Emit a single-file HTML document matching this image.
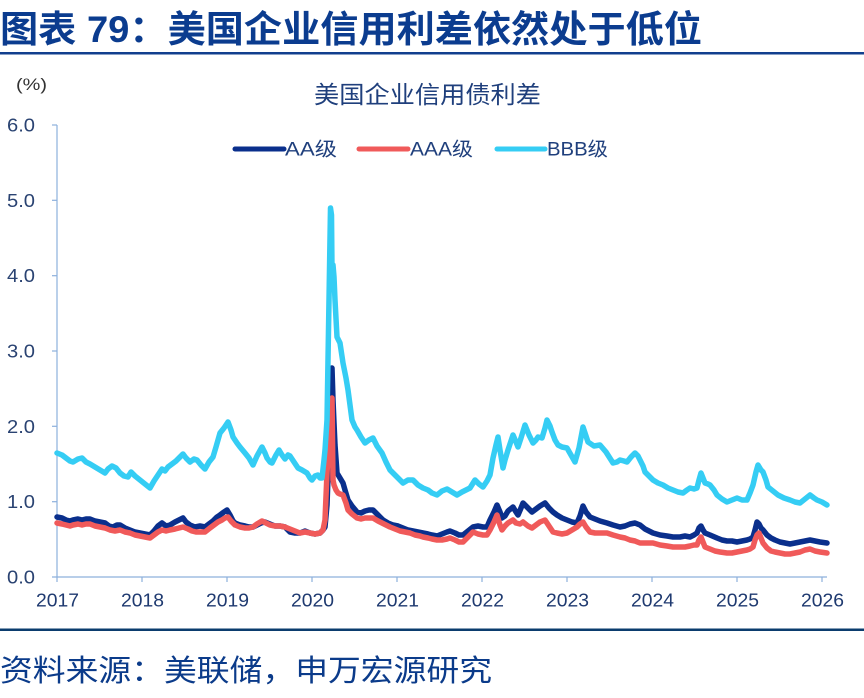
<!DOCTYPE html>
<html>
<head>
<meta charset="utf-8">
<style>
html,body{margin:0;padding:0;background:#fff;}
svg{display:block;}
text{font-family:"Liberation Sans","Noto Sans CJK SC",sans-serif;}
</style>
</head>
<body>
<svg width="864" height="698" viewBox="0 0 864 698" xmlns="http://www.w3.org/2000/svg">
<rect width="864" height="698" fill="#fff"/>
<!-- Title -->
<text x="0" y="42" font-size="37" font-weight="bold" fill="#0b3c8f" textLength="702" lengthAdjust="spacingAndGlyphs">图表 79：美国企业信用利差依然处于低位</text>
<rect x="0" y="52" width="864" height="2.5" fill="#123f8e"/>

<!-- unit -->
<text x="16" y="90" font-size="17" fill="#333" textLength="31" lengthAdjust="spacingAndGlyphs">(%)</text>

<!-- chart title -->
<text x="314" y="103" font-size="24" fill="#1f3f7c" textLength="227" lengthAdjust="spacingAndGlyphs">美国企业信用债利差</text>

<!-- legend -->
<line x1="235" y1="149" x2="284" y2="149" stroke="#0a2f8c" stroke-width="5" stroke-linecap="round"/>
<text x="285" y="155.5" font-size="19" fill="#1f3f7c" textLength="52" lengthAdjust="spacingAndGlyphs">AA级</text>
<line x1="359" y1="149" x2="408" y2="149" stroke="#f05a5a" stroke-width="5" stroke-linecap="round"/>
<text x="410" y="155.5" font-size="19" fill="#1f3f7c" textLength="63" lengthAdjust="spacingAndGlyphs">AAA级</text>
<line x1="497" y1="149" x2="545" y2="149" stroke="#35cdf4" stroke-width="5" stroke-linecap="round"/>
<text x="547" y="155.5" font-size="19" fill="#1f3f7c" textLength="61" lengthAdjust="spacingAndGlyphs">BBB级</text>

<!-- axes -->
<g stroke="#8db0dc" stroke-width="1.2" fill="none">
<line x1="57" y1="125" x2="57" y2="577"/>
<line x1="52" y1="577" x2="827" y2="577"/>
<line x1="52" y1="125" x2="57" y2="125"/>
<line x1="52" y1="200.3" x2="57" y2="200.3"/>
<line x1="52" y1="275.7" x2="57" y2="275.7"/>
<line x1="52" y1="351" x2="57" y2="351"/>
<line x1="52" y1="426.3" x2="57" y2="426.3"/>
<line x1="52" y1="501.7" x2="57" y2="501.7"/>
<line x1="57" y1="577" x2="57" y2="582"/>
<line x1="142" y1="577" x2="142" y2="582"/>
<line x1="227" y1="577" x2="227" y2="582"/>
<line x1="312" y1="577" x2="312" y2="582"/>
<line x1="397" y1="577" x2="397" y2="582"/>
<line x1="482" y1="577" x2="482" y2="582"/>
<line x1="567" y1="577" x2="567" y2="582"/>
<line x1="652" y1="577" x2="652" y2="582"/>
<line x1="737" y1="577" x2="737" y2="582"/>
<line x1="822" y1="577" x2="822" y2="582"/>
</g>

<!-- y labels -->
<g font-size="18" fill="#2a4372" text-anchor="end">
<text x="35" y="131.5" textLength="28" lengthAdjust="spacingAndGlyphs">6.0</text>
<text x="35" y="206.8" textLength="28" lengthAdjust="spacingAndGlyphs">5.0</text>
<text x="35" y="282.2" textLength="28" lengthAdjust="spacingAndGlyphs">4.0</text>
<text x="35" y="357.5" textLength="28" lengthAdjust="spacingAndGlyphs">3.0</text>
<text x="35" y="432.8" textLength="28" lengthAdjust="spacingAndGlyphs">2.0</text>
<text x="35" y="508.2" textLength="28" lengthAdjust="spacingAndGlyphs">1.0</text>
<text x="35" y="583.5" textLength="28" lengthAdjust="spacingAndGlyphs">0.0</text>
</g>

<!-- x labels -->
<g font-size="18.5" fill="#1f3a70">
<text x="36" y="606.5" textLength="43" lengthAdjust="spacingAndGlyphs">2017</text>
<text x="121" y="606.5" textLength="43" lengthAdjust="spacingAndGlyphs">2018</text>
<text x="206" y="606.5" textLength="43" lengthAdjust="spacingAndGlyphs">2019</text>
<text x="291" y="606.5" textLength="43" lengthAdjust="spacingAndGlyphs">2020</text>
<text x="376" y="606.5" textLength="43" lengthAdjust="spacingAndGlyphs">2021</text>
<text x="461" y="606.5" textLength="43" lengthAdjust="spacingAndGlyphs">2022</text>
<text x="546" y="606.5" textLength="43" lengthAdjust="spacingAndGlyphs">2023</text>
<text x="631" y="606.5" textLength="43" lengthAdjust="spacingAndGlyphs">2024</text>
<text x="716" y="606.5" textLength="43" lengthAdjust="spacingAndGlyphs">2025</text>
<text x="801" y="606.5" textLength="43" lengthAdjust="spacingAndGlyphs">2026</text>
</g>

<!-- AA series -->
<polyline fill="none" stroke="#0a2f8c" stroke-width="5.5" stroke-linejoin="round" stroke-linecap="round" points="57,517 62,518 66,520 70,521 73,520 78,519 82,520 86,519 90,519 95,521 100,522 105,523 109,526 113,527 117,525 120,525 125,528 130,530 135,532 140,533 145,534 150,535 154,531 158,526 162,523 166,526 170,525 175,522 179,520 183,518 186,522 190,525 195,527 200,526 205,527 209,524 213,521 217,517 220,515 224,512 227,510 230,515 233,521 235,523 240,525 245,526 249,527 253,527 257,525 261,523 265,522 270,524 275,526 280,526 285,527 288,530 290,532 295,533 300,533 305,531 310,533 315,534 320,533 323,530 325,527 327,505 329,450 331,390 332,368 333,400 334,423 335,445 337,473 340,478 343,483 345,490 348,500 352,506 357,512 361,513 365,511 369,510 373,510 378,515 383,520 388,523 393,525 398,526 403,528 408,530 413,531 418,532 423,533 428,534 432,535 437,536 442,534 447,532 450,531 455,533 459,535 463,535 468,531 473,527 478,526 483,527 487,527 490,520 494,512 497,505 500,512 502,518 505,516 508,511 513,507 516,512 518,515 521,508 523,503 527,507 532,512 536,509 540,506 545,503 549,508 553,512 557,515 562,518 567,520 572,522 577,523 580,516 583,506 586,512 590,517 595,519 600,521 607,523 613,525 620,527 625,526 630,524 635,523 640,525 645,529 653,533 660,535 667,536 673,537 680,537 685,536 690,537 694,535 697,533 699,528 701,526 703,530 705,533 710,535 717,538 722,540 727,541 732,541 737,542 742,541 747,540 750,539 753,537 755,530 757,522 759,524 761,528 763,530 767,535 771,538 775,540 780,542 785,543 790,544 795,543 800,542 805,541 810,540 815,541 820,542 827,543"/>

<!-- AAA series -->
<polyline fill="none" stroke="#f05a5a" stroke-width="5.5" stroke-linejoin="round" stroke-linecap="round" points="57,523 62,524 66,525 70,526 73,525 78,524 82,525 86,524 90,524 95,526 100,527 105,528 110,530 115,531 120,530 125,532 130,533 135,535 140,536 145,537 150,538 154,535 158,532 162,530 166,531 170,530 175,529 179,528 183,527 188,529 192,531 196,532 201,532 205,532 210,528 214,525 218,522 222,520 225,518 228,517 231,521 235,525 240,527 245,528 249,528 253,527 257,524 262,521 266,523 270,525 275,526 280,526 285,527 290,529 295,531 300,533 305,532 310,533 315,534 320,533 323,530 325,520 327,473 329,440 331,410 332,398 333,480 334,485 336,490 338,493 340,494 343,495 346,503 348,510 352,514 357,518 361,519 365,518 369,518 373,518 378,521 384,524 390,527 395,529 400,531 405,532 410,533 415,535 420,536 423,537 428,538 432,539 437,540 442,540 447,539 450,538 455,540 459,542 463,542 468,537 473,532 478,534 483,535 487,535 490,530 494,522 497,515 500,525 502,530 505,526 508,523 513,520 516,523 520,524 523,522 528,526 532,528 536,525 540,522 545,520 549,526 553,532 557,533 562,534 567,533 572,530 577,527 580,524 583,522 586,527 590,532 595,533 600,533 607,533 613,535 620,537 625,538 630,540 635,541 640,543 645,543 653,543 660,545 667,546 673,547 680,547 685,547 690,546 694,545 697,545 699,540 701,537 703,542 705,547 710,549 715,551 720,552 727,553 732,553 737,552 742,551 747,550 750,549 753,547 755,540 757,535 759,533 761,538 763,543 767,548 771,551 775,552 780,553 785,554 790,554 795,553 800,552 805,550 810,549 815,551 820,552 827,553"/>

<!-- BBB series -->
<polyline fill="none" stroke="#35cdf4" stroke-width="5.5" stroke-linejoin="round" stroke-linecap="round" points="57,453 62,455 66,458 70,461 73,462 78,459 82,458 86,462 90,464 95,467 100,470 105,473 108,469 112,466 116,468 120,473 124,476 128,477 131,472 135,476 140,480 145,484 150,488 154,481 158,475 162,469 165,471 168,467 172,464 176,461 180,457 183,454 186,458 190,462 194,459 197,460 201,465 205,469 209,462 213,457 216,447 220,433 224,428 228,422 231,430 233,437 237,443 240,447 245,453 249,458 253,465 257,456 262,447 265,453 267,458 270,462 272,463 276,455 279,450 282,455 285,459 288,455 290,456 294,462 298,468 302,470 307,473 310,478 312,480 315,476 318,475 320,478 322,478 324,460 325,450 327,420 329,300 330.5,208 331.5,215 332,270 333,265 334,277 335,300 337,337 340,343 343,363 346,378 348,390 350,405 352,420 355,427 357,430 361,437 365,443 369,440 373,438 377,446 382,453 386,462 390,470 395,475 399,479 403,483 408,480 413,480 418,485 423,488 428,490 432,493 437,495 442,491 447,489 452,492 457,495 462,492 466,490 470,488 475,480 479,484 483,487 487,481 490,475 493,458 496,445 498,437 500,450 503,468 505,460 508,450 511,441 513,435 516,442 518,447 521,438 525,425 529,435 533,443 536,440 538,437 542,438 545,428 547,420 550,426 552,432 555,440 558,445 562,447 567,448 571,455 575,462 579,448 583,427 586,436 588,442 594,446 600,445 606,452 613,463 617,462 620,460 624,461 627,462 631,457 635,453 638,456 640,460 643,466 645,472 649,476 653,480 658,483 663,485 668,488 673,490 678,492 683,493 687,490 690,488 694,489 697,488 699,480 701,473 703,478 705,483 708,484 710,485 714,490 717,495 722,499 727,502 732,500 737,498 742,500 747,500 750,493 753,485 756,472 758,465 761,470 763,472 766,480 768,487 773,491 778,495 784,498 790,500 795,502 800,503 805,499 810,495 814,498 817,500 822,502 827,505"/>

<!-- bottom rule & source -->
<rect x="0" y="628.5" width="864" height="2.5" fill="#0b3c6e"/>
<text x="0" y="681" font-size="30" fill="#0b3b8a" textLength="492" lengthAdjust="spacingAndGlyphs">资料来源：美联储，申万宏源研究</text>
</svg>
</body>
</html>
